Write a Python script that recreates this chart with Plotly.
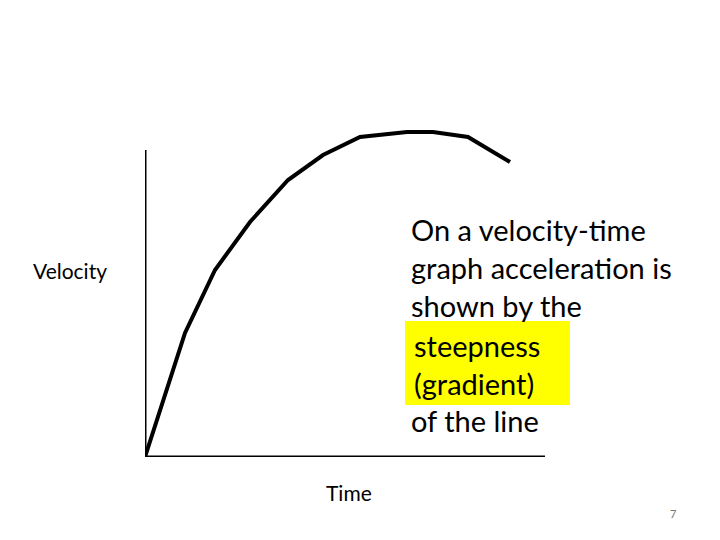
import plotly.graph_objects as go

# Data (arbitrary units)
time = [0, 4.0, 7.0, 10.5, 14.3, 17.8, 21.5, 26.2, 28.8, 32.3, 36.5]
velocity = [0, 12.4, 18.7, 23.5, 27.7, 30.2, 32.0, 32.5, 32.5, 32.0, 29.5]
x_axis_end = 40.0
y_axis_end = 30.7
x_label = "Time"
y_label = "Velocity"
text_lines = ["On a velocity-time", "graph acceleration is", "shown by the",
              "steepness", "(gradient)", "of the line"]
page_number = "7"

W, H = 720, 540
OFF = 8  # page body margin in the browser
L, R, T, B = 145 - OFF, 175 + OFF, 100 - OFF, 83 + OFF
pw, ph = W - L - R, H - T - B

def px(x):
    return (x - OFF - L) / pw

def py(y):
    return (H - B - (y - OFF)) / ph

FONT = "Lato, Carlito, Calibri, sans-serif"

fig = go.Figure()
fig.add_trace(go.Scatter(x=time, y=velocity, mode="lines",
                         line=dict(color="black", width=4), hoverinfo="skip",
                         showlegend=False))

shapes = [
    dict(type="line", xref="x", yref="y", x0=0, y0=0, x1=x_axis_end, y1=0,
         line=dict(color="black", width=3)),
    dict(type="line", xref="x", yref="y", x0=0, y0=0, x1=0, y1=y_axis_end,
         line=dict(color="black", width=3)),
    dict(type="rect", xref="paper", yref="paper", x0=px(405), x1=px(570),
         y0=py(405), y1=py(321), fillcolor="#FFFF00", line=dict(width=0),
         layer="below"),
]

annotations = []
line_y = [229, 267, 305, 345, 383, 420]
line_x = [409, 409, 409, 412, 412, 409]
for t, yy, xx in zip(text_lines, line_y, line_x):
    annotations.append(dict(text=t, x=px(xx), y=py(yy), xref="paper", yref="paper",
                            xanchor="left", yanchor="middle", showarrow=False,
                            font=dict(family=FONT, size=29, color="black")))
annotations.append(dict(text=y_label, x=px(70), y=py(270), xref="paper", yref="paper",
                        xanchor="center", yanchor="middle", showarrow=False,
                        font=dict(family=FONT, size=21, color="black")))
annotations.append(dict(text=x_label, x=px(349), y=py(492), xref="paper", yref="paper",
                        xanchor="center", yanchor="middle", showarrow=False,
                        font=dict(family=FONT, size=21, color="black")))
annotations.append(dict(text=page_number, x=px(673), y=py(514), xref="paper", yref="paper",
                        xanchor="center", yanchor="middle", showarrow=False,
                        font=dict(family=FONT, size=11, color="#777777")))

fig.update_layout(
    width=W - OFF, height=H - OFF, margin=dict(l=L, r=R - OFF, t=T, b=B - OFF),
    paper_bgcolor="white", plot_bgcolor="white",
    xaxis=dict(range=[0, pw / 10], visible=False, fixedrange=True),
    yaxis=dict(range=[0, ph / 10], visible=False, fixedrange=True),
    shapes=shapes, annotations=annotations, showlegend=False,
)
fig.write_html("out.html", config={"displayModeBar": False})
